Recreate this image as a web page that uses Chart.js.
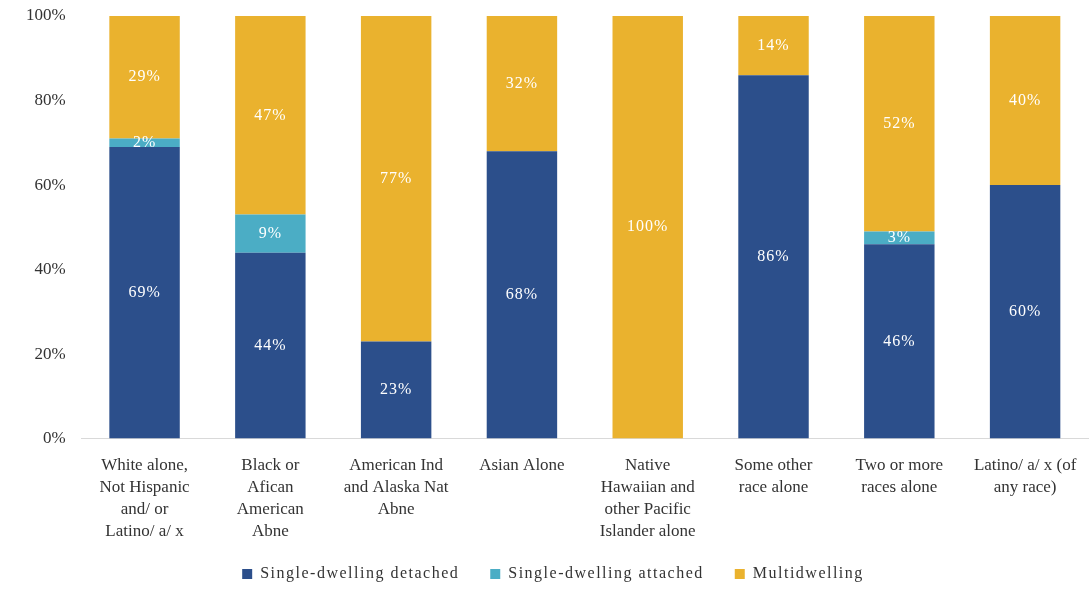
<!DOCTYPE html>
<html>
<head>
<meta charset="utf-8">
<script src="https://cdn.jsdelivr.net/npm/chart.js@4"></script>
<style>
  body { margin: 0; background: #fff; }
  #wrap { width: 1092px; height: 596px; }
</style>
</head>
<body>
<div id="wrap"><canvas id="housingChart"></canvas></div>
<script>
const categories = [
    ["White alone,", "Not Hispanic", "and/ or", "Latino/ a/ x"],
    ["Black or", "Afican", "American", "Abne"],
    ["American Ind", "and Alaska Nat", "Abne"],
    ["Asian Alone"],
    ["Native", "Hawaiian and", "other Pacific", "Islander alone"],
    ["Some other", "race alone"],
    ["Two or more", "races alone"],
    ["Latino/ a/ x (of", "any race)"]
];
const detached = [69, 44, 23, 68, 0, 86, 46, 60];
const attached = [2, 9, 0, 0, 0, 0, 3, 0];
const multi = [29, 47, 77, 32, 100, 14, 52, 40];
const yTicks = [0, 20, 40, 60, 80, 100];

const serif = "'Liberation Serif', 'DejaVu Serif', serif";

// white % labels centred in each segment
const barLabels = {
    id: "barLabels",
    afterDatasetsDraw(chart) {
        const c = chart.ctx;
        c.save();
        c.font = "16px " + serif;
        c.letterSpacing = "1px";
        c.fillStyle = "#ffffff";
        c.textAlign = "center";
        c.textBaseline = "middle";
        chart.data.datasets.forEach((ds, i) => {
            chart.getDatasetMeta(i).data.forEach((bar, j) => {
                const v = ds.data[j];
                if (!v) return;
                const top = Math.max(bar.y, chart.chartArea.top);
                c.fillText(v + "%", bar.x, (top + bar.base) / 2);
            });
        });
        c.restore();
    }
};

// the original legend text is set quite loose and the items are far apart;
// big label padding also adds height on top of the legend, so trim that back
const legendTrim = 16;
const looseLegend = {
    id: "looseLegend",
    beforeLayout(chart) {
        const lg = chart.legend;
        if (!lg || lg._loose) return;
        lg._loose = true;
        const fit = lg.fit.bind(lg);
        const draw = lg.draw.bind(lg);
        lg.fit = function () {
            const c = this.ctx;
            const prev = c.letterSpacing;
            c.letterSpacing = "1.5px";
            fit();
            c.letterSpacing = prev;
            this.height -= legendTrim;
        };
        lg.draw = function () {
            const c = this.ctx;
            const top = this.top;
            c.save();
            c.letterSpacing = "1.5px";
            this.top = top - legendTrim;
            draw();
            this.top = top;
            c.restore();
        };
    }
};

new Chart(document.getElementById("housingChart"), {
    type: "bar",
    data: {
        labels: categories,
        datasets: [
            { label: "Single-dwelling detached", data: detached, backgroundColor: "#2C4F8B" },
            { label: "Single-dwelling attached", data: attached, backgroundColor: "#4BADC5" },
            { label: "Multidwelling", data: multi, backgroundColor: "#EAB22E" }
        ]
    },
    options: {
        responsive: true,
        maintainAspectRatio: false,
        animation: false,
        layout: { padding: { top: 4, right: 4, left: 18, bottom: 4 } },
        datasets: { bar: { categoryPercentage: 1, barPercentage: 0.56 } },
        scales: {
            x: {
                stacked: true,
                grid: { display: false },
                border: { color: "#d9d9d9" },
                ticks: {
                    font: { family: serif, size: 17, lineHeight: 1.3 },
                    color: "#333",
                    maxRotation: 0,
                    autoSkip: false,
                    padding: 8
                }
            },
            y: {
                stacked: true,
                min: 0,
                max: 100,
                afterBuildTicks: (axis) => { axis.ticks = yTicks.map(v => ({ value: v })); },
                grid: { display: false },
                border: { display: false },
                ticks: {
                    font: { family: serif, size: 17, lineHeight: 0.94 },
                    color: "#333",
                    padding: 8,
                    callback: (v) => v + "%"
                }
            }
        },
        plugins: {
            tooltip: { enabled: false },
            legend: {
                position: "bottom",
                padding: 4,
                labels: {
                    font: { family: serif, size: 16 },
                    color: "#333",
                    boxWidth: 10,
                    boxHeight: 10,
                    padding: 31
                }
            }
        }
    },
    plugins: [barLabels, looseLegend]
});
</script>
</body>
</html>
